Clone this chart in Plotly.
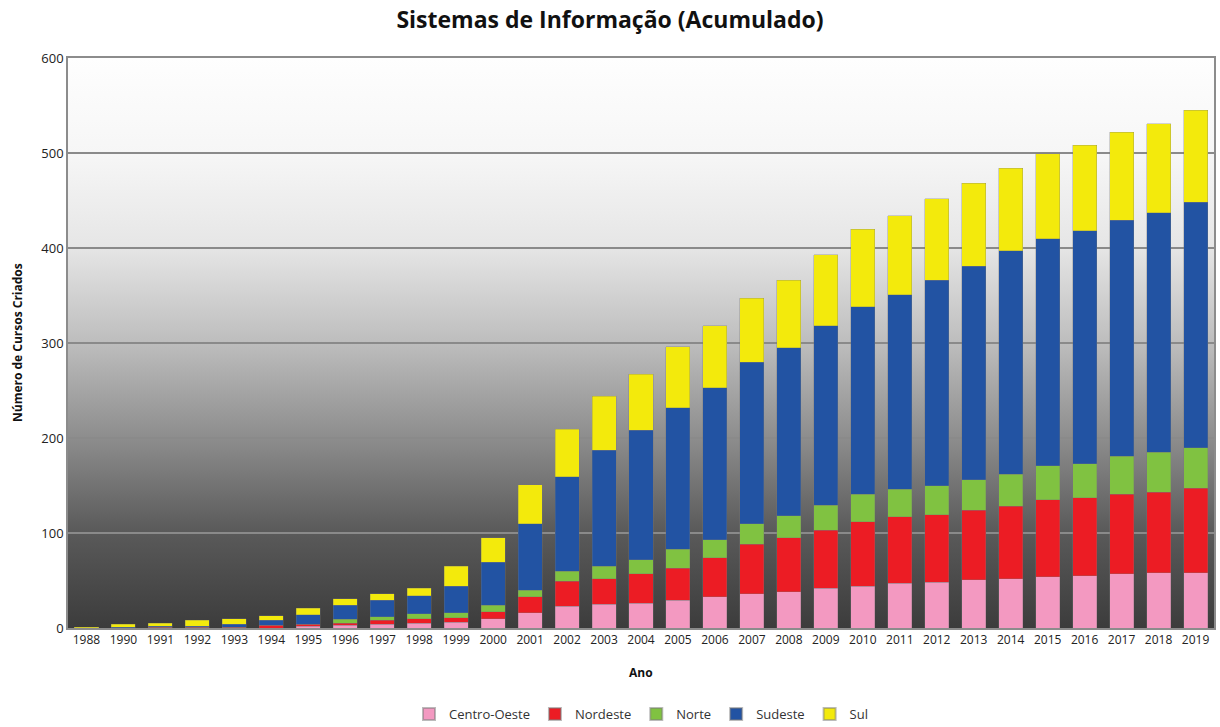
import base64
import plotly.graph_objects as go

anos = ["1988", "1990", "1991", "1992", "1993", "1994", "1995", "1996", "1997", "1998", "1999",
        "2000", "2001", "2002", "2003", "2004", "2005", "2006", "2007", "2008", "2009",
        "2010", "2011", "2012", "2013", "2014", "2015", "2016", "2017", "2018", "2019"]

centro_oeste = [0, 0, 0, 0, 0, 0, 2, 3, 4, 5, 6,
                10, 16, 23, 25, 26, 29, 33, 36, 38, 42,
                44, 47, 48, 51, 52, 54, 55, 57, 58, 58]
nordeste = [0, 0, 1, 1, 1, 3, 2, 2, 4, 5, 5,
            7, 17, 26, 27, 31, 34, 41, 52, 57, 61,
            68, 70, 71, 73, 76, 81, 82, 84, 85, 89]
norte = [0, 0, 0, 0, 0, 0, 0, 4, 4, 5, 5,
         7, 7, 11, 13, 15, 20, 19, 22, 23, 26,
         29, 29, 31, 32, 34, 36, 36, 40, 42, 43]
sudeste = [0, 1, 1, 1, 3, 5, 10, 15, 17, 19, 28,
           45, 70, 99, 122, 136, 149, 160, 170, 177, 189,
           197, 205, 216, 225, 235, 239, 245, 248, 252, 258]
sul = [1, 3, 3, 6, 6, 5, 7, 7, 7, 8, 21,
       26, 41, 50, 57, 59, 64, 65, 67, 71, 75,
       82, 83, 86, 87, 87, 89, 90, 93, 94, 97]

series = [
    ("Centro-Oeste", centro_oeste, "#f399c1"),
    ("Nordeste", nordeste, "#ec1c24"),
    ("Norte", norte, "#80c241"),
    ("Sudeste", sudeste, "#2253a3"),
    ("Sul", sul, "#f3ea0c"),
]

font_family = "Open Sans, Noto Sans, sans-serif"

fig = go.Figure()
for name, vals, color in series:
    fig.add_trace(go.Bar(
        x=anos, y=vals, name=name,
        marker=dict(color=color, line=dict(width=0.6, color="rgba(120,120,120,0.5)")),
    ))

# smooth vertical gradient for the plot background (light top -> dark bottom)
svg = (
    '<svg xmlns="http://www.w3.org/2000/svg" width="100" height="600" preserveAspectRatio="none" '
    'viewBox="0 0 100 600">'
    '<defs><linearGradient id="g" x1="0" y1="0" x2="0" y2="1">'
    '<stop offset="0" stop-color="#fefefe"/>'
    '<stop offset="0.17" stop-color="#f6f6f6"/>'
    '<stop offset="0.33" stop-color="#e6e6e6"/>'
    '<stop offset="0.5" stop-color="#bdbdbd"/>'
    '<stop offset="0.67" stop-color="#8c8c8c"/>'
    '<stop offset="0.83" stop-color="#5a5a5a"/>'
    '<stop offset="1" stop-color="#3c3c3c"/>'
    '</linearGradient></defs>'
    '<rect x="0" y="0" width="100" height="600" fill="url(#g)"/></svg>'
)
src = "data:image/svg+xml;base64," + base64.b64encode(svg.encode()).decode()

fig.update_layout(
    width=1220, height=727,
    barmode="stack",
    bargap=0.35,
    paper_bgcolor="white",
    plot_bgcolor="rgba(0,0,0,0)",
    margin=dict(l=68, r=6, t=58, b=99, autoexpand=False),
    font=dict(family=font_family, size=12, color="#333333"),
    title=dict(text="<b>Sistemas de Informação (Acumulado)</b>",
               x=0.5, xref="container", xanchor="center", y=20 / 727 * -1 + 1, yref="container",
               yanchor="middle",
               font=dict(family=font_family, size=23, color="#111111")),
    images=[dict(source=src, xref="x domain", yref="y domain", x=0, y=1,
                 sizex=1, sizey=1, xanchor="left", yanchor="top",
                 sizing="stretch", layer="below")],
    showlegend=True,
    legend=dict(orientation="h", x=0.5, xanchor="center", y=-86 / 570, yanchor="middle",
                font=dict(family=font_family, size=13, color="#333333"),
                itemsizing="constant", traceorder="normal", itemwidth=30,
                tracegroupgap=0),
    xaxis=dict(type="category", categoryorder="array", categoryarray=anos,
               showgrid=False, showline=True, linecolor="#8c8c8c", linewidth=1.5,
               mirror=True, ticks="", tickfont=dict(size=12, color="#222222"),
               tickangle=0),
    yaxis=dict(range=[0, 600], dtick=100, showgrid=True, gridcolor="#8a8a8a", gridwidth=1.5,
               showline=True, linecolor="#8c8c8c", linewidth=1.5, mirror=True,
               ticks="", tickfont=dict(size=13, color="#222222"), zeroline=False),
    annotations=[
        dict(text="<b>Ano</b>", xref="paper", yref="paper", x=0.5, y=-44 / 570,
             xanchor="center", yanchor="middle", showarrow=False,
             font=dict(family=font_family, size=12, color="#111111")),
        dict(text="<b>Número de Cursos Criados</b>", xref="paper", yref="paper",
             x=-51 / 1146, y=0.5, xanchor="center", yanchor="middle", textangle=-90,
             showarrow=False, font=dict(family=font_family, size=12, color="#111111")),
    ],
)

fig.write_html("out.html", config={"displayModeBar": False},
               post_script="document.body.style.margin='0';")
